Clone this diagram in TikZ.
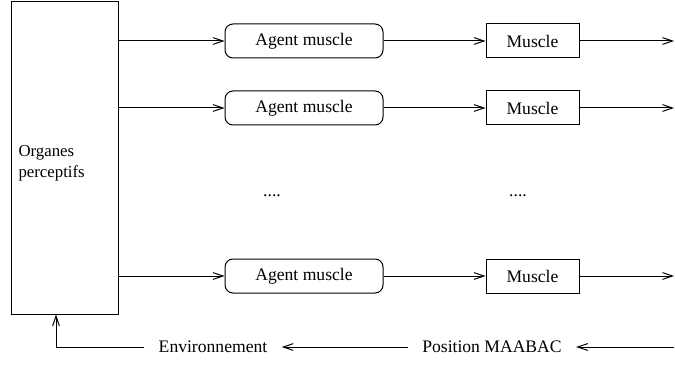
\documentclass[tikz,border=0pt]{standalone}
\usepackage{fontspec}
\setmainfont{Liberation Serif}
\usetikzlibrary{arrows.meta, positioning}

\begin{document}
\begin{tikzpicture}[x=0.5pt,y=-0.5pt,inner sep=0pt,line width=.5pt,>={Straight Barb[length=5pt,width=3.4pt]},
  font=\fontsize{8.8}{10.5}\selectfont,
  agent/.style={draw,rounded corners=4pt,minimum width=79pt,minimum height=17pt},
  musc/.style={draw,minimum width=46.5pt,minimum height=17pt},
  lbl/.style={inner xsep=7pt}]
\useasboundingbox (0,0) rectangle (675,385);
\node [draw,minimum width=53.5pt,minimum height=156pt] (O) at (64.5,158) {};
\node [anchor=west,align=left,font=\fontsize{8.4}{10.5}\selectfont] (T) at (18,163) {Organes\\perceptifs};
\node [agent] (A1) at (304,41)  {Agent muscle};
\node [agent] (A2) at (304,108) {Agent muscle};
\node [agent] (A3) at (304,276) {Agent muscle};
\node [musc] (M1) at (532.5,41)  {Muscle};
\node [musc] (M2) at (532.5,108) {Muscle};
\node [musc] (M3) at (532.5,276) {Muscle};
\node (D1) at (272,196) {....};
\node (D2) at (518,196) {....};
\node [lbl] (P) at (492,347) {Position MAABAC};
\node [lbl] (E) at (213,347) {Environnement};
\coordinate (R) at (674,347);
\coordinate (C) at (56,347);
\draw [->] (O.east |- A1) -- (A1);
\draw [->] (O.east |- A2) -- (A2);
\draw [->] (O.east |- A3) -- (A3);
\draw [->] (A1) -- (M1);
\draw [->] (A2) -- (M2);
\draw [->] (A3) -- (M3);
\draw [->] (M1) -- (M1 -| R);
\draw [->] (M2) -- (M2 -| R);
\draw [->] (M3) -- (M3 -| R);
\draw [->] (R) -- (P);
\draw [->] (P) -- (E);
\draw [->] (E) -- (C) -- (C |- O.south);
\end{tikzpicture}
\end{document}
